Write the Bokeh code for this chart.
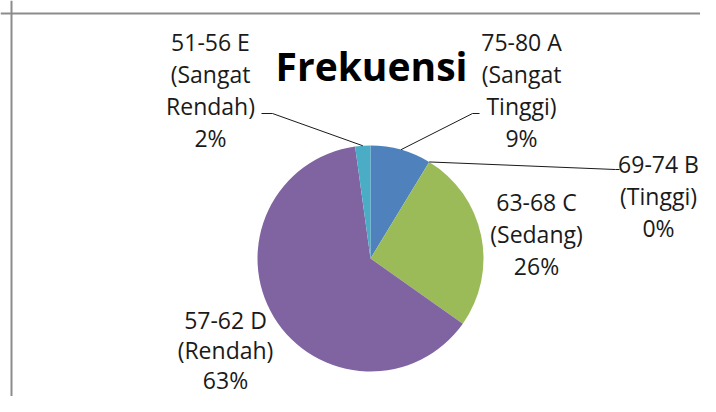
import math
from bokeh.plotting import figure
from bokeh.models import Range1d, Span, ColumnDataSource
from bokeh.core.properties import value
from bokeh.embed import file_html
from bokeh.resources import INLINE

# ---- data ----
rentang = ["75-80 A", "69-74 B", "63-68 C", "57-62 D", "51-56 E"]
kategori = [["(Sangat", "Tinggi)"], ["(Tinggi)"], ["(Sedang)"], ["(Rendah)"], ["(Sangat", "Rendah)"]]
frekuensi = [4, 0, 12, 29, 1]
warna = ["#4F81BD", "#C0504D", "#9BBB59", "#8064A2", "#4BACC6"]
judul = "Frekuensi"

# ---- layout (pixel coordinates in the figure; y measured from top) ----
W, H = 700, 396
CX, CY, R = 370, 258, 113
label_pos = [(521, 50), (658, 172), (536, 210), (225, 328), (210, 50)]  # center x, first baseline
label_step = [32, 32, 32, 30, 32]
leader_end = [[(472, 113), (479, 113)], [(615, 169), (619, 169)], None, None, [(272, 113), (261, 113)]]
FONT = value("Open Sans")
LBL_SIZE, TTL_SIZE = 23, 39
BASE_SHIFT = 0.39  # compensation for how baselines are placed, in em


def fy(y):
    return H - y


p = figure(width=W, height=H, output_backend="svg", toolbar_location=None,
           x_range=Range1d(0, W), y_range=Range1d(0, H),
           min_border=0, outline_line_color=None)
p.axis.visible = False
p.grid.visible = False
p.background_fill_color = "white"
p.border_fill_color = "white"

# frame lines (left and top, as in the cropped reference)
p.add_layout(Span(location=11, dimension="height", line_color="#8c8c8c", line_width=2))
p.add_layout(Span(location=fy(13), dimension="width", line_color="#8c8c8c", line_width=2))

total = float(sum(frekuensi))
cum = 0.0
ws = dict(s=[], e=[], c=[])
mids = []
for v, c in zip(frekuensi, warna):
    a0 = math.pi / 2 - 2 * math.pi * cum / total
    cum += v
    a1 = math.pi / 2 - 2 * math.pi * cum / total
    mids.append((a0 + a1) / 2)
    if v > 0:
        ws["s"].append(a0)
        ws["e"].append(a1)
        ws["c"].append(c)

src = ColumnDataSource(dict(x=[CX] * len(ws["s"]), y=[fy(CY)] * len(ws["s"]),
                            s=ws["s"], e=ws["e"], c=ws["c"]))
p.wedge(x="x", y="y", radius=R, start_angle="s", end_angle="e", direction="clock",
        fill_color="c", line_color=None, source=src)

# leader lines
for i, le in enumerate(leader_end):
    if le is None:
        continue
    m = mids[i]
    xs = [CX + R * math.cos(m)] + [pt[0] for pt in le]
    ys = [fy(CY) + R * math.sin(m)] + [fy(pt[1]) for pt in le]
    p.line(xs, ys, line_color="#1a1a1a", line_width=1)

# labels
tx, ty, tt = [], [], []
for i in range(len(rentang)):
    pct = "%d%%" % round(frekuensi[i] / total * 100)
    lines = [rentang[i]] + kategori[i] + [pct]
    cx, b = label_pos[i]
    for j, ln in enumerate(lines):
        tx.append(cx)
        ty.append(fy(b + j * label_step[i] - BASE_SHIFT * LBL_SIZE))
        tt.append(ln)
p.text(x=tx, y=ty, text=tt, text_align="center", text_baseline="alphabetic",
       text_font=FONT, text_font_size="%dpx" % LBL_SIZE, text_color="#1a1a1a")

p.text(x=[371], y=[fy(80 - BASE_SHIFT * TTL_SIZE)], text=[judul], text_align="center",
       text_baseline="alphabetic", text_font=FONT, text_font_size="%dpx" % TTL_SIZE,
       text_font_style="bold", text_color="#000000")

open("out.html", "w").write(file_html(p, INLINE))
